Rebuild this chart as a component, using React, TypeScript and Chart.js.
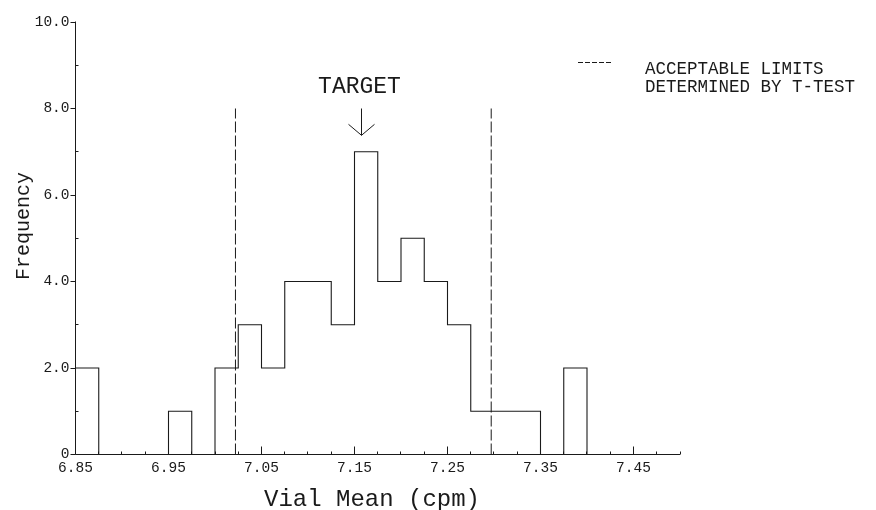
import { useEffect, useRef } from "react";
import { Chart, registerables } from "chart.js";

Chart.register(...registerables);

// ---- data ----
const binStarts = [
  6.85, 6.875, 6.9, 6.925, 6.95, 6.975, 7.0, 7.025, 7.05, 7.075, 7.1,
  7.125, 7.15, 7.175, 7.2, 7.225, 7.25, 7.275, 7.3, 7.325, 7.35, 7.375,
];
const binEnd = 7.4;
const frequencies = [2, 0, 0, 0, 1, 0, 2, 3, 2, 4, 4, 3, 7, 4, 5, 4, 3, 1, 1, 1, 0, 2];

const limitLow = 7.022;
const limitHigh = 7.297;
const limitTop = 8.0;

const targetValue = 7.157;
const arrowTop = 8.0;
const arrowTip = 7.38;
const targetLabelBaseline = 8.36;
const targetLabel = "TARGET";

const xMin = 6.85;
const xMax = 7.5;
const xStep = 0.025;
const yMin = 0;
const yMax = 10;
const yStep = 1;
const xTickLabels = ["6.85", "6.95", "7.05", "7.15", "7.25", "7.35", "7.45"];
const yTickLabels = ["0", "2.0", "4.0", "6.0", "8.0", "10.0"];

const xTitle = "Vial Mean (cpm)";
const yTitle = "Frequency";
const legendLines = ["ACCEPTABLE LIMITS", "DETERMINED BY T-TEST"];

const MONO = "'Liberation Mono', 'DejaVu Sans Mono', monospace";
const INK = "#1a1a1a";

function yLabelFor(v: number): string {
  const s = v === 0 ? "0" : v.toFixed(1);
  return yTickLabels.includes(s) ? s : "";
}
function xLabelFor(v: number): string {
  const s = v.toFixed(2);
  return xTickLabels.includes(s) ? s : "";
}

const decorPlugin = {
  id: "decor",
  beforeDatasetsDraw(chart: any) {
    const { ctx, chartArea } = chart;
    const xs = chart.scales.x;
    const ys = chart.scales.y;
    const x0 = xs.getPixelForValue(xMin);
    const y0 = ys.getPixelForValue(yMin);
    ctx.save();
    ctx.strokeStyle = INK;
    ctx.lineWidth = 1;
    ctx.beginPath();
    ctx.moveTo(x0, chartArea.top - 0.5);
    ctx.lineTo(x0, y0);
    ctx.lineTo(xs.getPixelForValue(xMax), y0);
    ctx.stroke();
    ctx.restore();
  },
  afterDraw(chart: any) {
    const { ctx, chartArea } = chart;
    const xs = chart.scales.x;
    const ys = chart.scales.y;
    ctx.save();
    ctx.strokeStyle = INK;
    ctx.fillStyle = INK;
    ctx.lineWidth = 1;
    ctx.setLineDash([]);

    // x tick marks (pointing up into the plot)
    const bottom = ys.getPixelForValue(yMin);
    const nX = Math.round((xMax - xMin) / xStep);
    for (let i = 0; i <= nX; i++) {
      const v = xMin + i * xStep;
      const px = Math.floor(xs.getPixelForValue(v)) + 0.5;
      const len = xLabelFor(v) ? 8 : 3;
      ctx.beginPath();
      ctx.moveTo(px, bottom);
      ctx.lineTo(px, bottom - len);
      ctx.stroke();
    }
    // y tick marks: majors outward, minors inward
    const left = xs.getPixelForValue(xMin);
    const nY = Math.round((yMax - yMin) / yStep);
    for (let i = 0; i <= nY; i++) {
      const v = yMin + i * yStep;
      const py = Math.floor(ys.getPixelForValue(v)) + 0.5;
      ctx.beginPath();
      if (yLabelFor(v)) {
        ctx.moveTo(left - 5, py);
        ctx.lineTo(left, py);
      } else {
        ctx.moveTo(left, py);
        ctx.lineTo(left + 3, py);
      }
      ctx.stroke();
    }

    // target arrow
    const ax = Math.floor(xs.getPixelForValue(targetValue)) + 0.5;
    const aTop = ys.getPixelForValue(arrowTop);
    const aTip = ys.getPixelForValue(arrowTip);
    ctx.beginPath();
    ctx.moveTo(ax, aTop);
    ctx.lineTo(ax, aTip);
    ctx.moveTo(ax - 13, aTip - 11);
    ctx.lineTo(ax, aTip);
    ctx.lineTo(ax + 13, aTip - 11);
    ctx.stroke();

    // TARGET label
    ctx.font = `23px ${MONO}`;
    ctx.textAlign = "center";
    ctx.textBaseline = "alphabetic";
    ctx.fillText(targetLabel, ax - 2, ys.getPixelForValue(targetLabelBaseline));

    // axis titles
    ctx.font = `24px ${MONO}`;
    ctx.textAlign = "center";
    ctx.textBaseline = "alphabetic";
    ctx.fillText(xTitle, 372, 506);
    ctx.save();
    ctx.translate(29, 226);
    ctx.rotate(-Math.PI / 2);
    ctx.font = `20px ${MONO}`;
    ctx.fillText(yTitle, 0, 0);
    ctx.restore();

    // legend
    const lx = 578;
    const ly = 62;
    ctx.setLineDash([5, 2]);
    ctx.beginPath();
    ctx.moveTo(lx, ly + 0.5);
    ctx.lineTo(lx + 34, ly + 0.5);
    ctx.stroke();
    ctx.setLineDash([]);
    ctx.font = `17.5px ${MONO}`;
    ctx.textAlign = "left";
    legendLines.forEach((line, i) => {
      ctx.fillText(line, 645, 74 + i * 18);
    });
    ctx.restore();
  },
};

export default function App() {
  const canvasRef = useRef<HTMLCanvasElement | null>(null);

  useEffect(() => {
    document.body.style.margin = "0";
    const canvas = canvasRef.current;
    if (!canvas) return;

    const histData = binStarts
      .map((x, i) => ({ x, y: frequencies[i] }))
      .concat([{ x: binEnd, y: 0 }]);

    const chart = new Chart(canvas, {
      type: "line",
      data: {
        datasets: [
          {
            label: "Frequency",
            data: histData,
            stepped: "before",
            borderColor: INK,
            borderWidth: 1.1,
            pointRadius: 0,
            fill: false,
          },
          {
            label: "Lower limit",
            data: [
              { x: limitLow, y: 0 },
              { x: limitLow, y: limitTop },
            ],
            borderColor: INK,
            borderWidth: 1,
            borderDash: [11, 3],
            pointRadius: 0,
          },
          {
            label: "Upper limit",
            data: [
              { x: limitHigh, y: 0 },
              { x: limitHigh, y: limitTop },
            ],
            borderColor: INK,
            borderWidth: 1,
            borderDash: [11, 3],
            pointRadius: 0,
          },
        ],
      },
      options: {
        responsive: false,
        animation: false,
        events: [],
        layout: { padding: { left: 0, top: 22, right: 196, bottom: 0 } },
        plugins: {
          legend: { display: false },
          tooltip: { enabled: false },
        },
        scales: {
          x: {
            type: "linear",
            min: xMin,
            max: xMax,
            grid: { display: false, drawTicks: false },
            border: { display: false },
            afterFit: (scale: any) => {
              scale.height = 55.5;
            },
            ticks: {
              stepSize: xStep,
              autoSkip: false,
              maxRotation: 0,
              padding: 5,
              color: INK,
              font: { family: MONO, size: 14.5 },
              callback: (v: any) => xLabelFor(Number(v)),
            },
            title: { display: false, text: xTitle },
          },
          y: {
            type: "linear",
            min: yMin,
            max: yMax,
            grid: { display: false, drawTicks: false },
            border: { display: false },
            afterFit: (scale: any) => {
              scale.width = 75.5;
            },
            ticks: {
              stepSize: yStep,
              autoSkip: false,
              padding: 6,
              color: INK,
              font: { family: MONO, size: 14.5 },
              callback: (v: any) => yLabelFor(Number(v)),
            },
            title: { display: false, text: yTitle },
          },
        },
      },
      plugins: [decorPlugin],
    } as any);

    return () => chart.destroy();
  }, []);

  return (
    <div style={{ width: 876, height: 510, background: "#fff" }}>
      <canvas ref={canvasRef} width={876} height={510} style={{ display: "block" }} />
    </div>
  );
}
